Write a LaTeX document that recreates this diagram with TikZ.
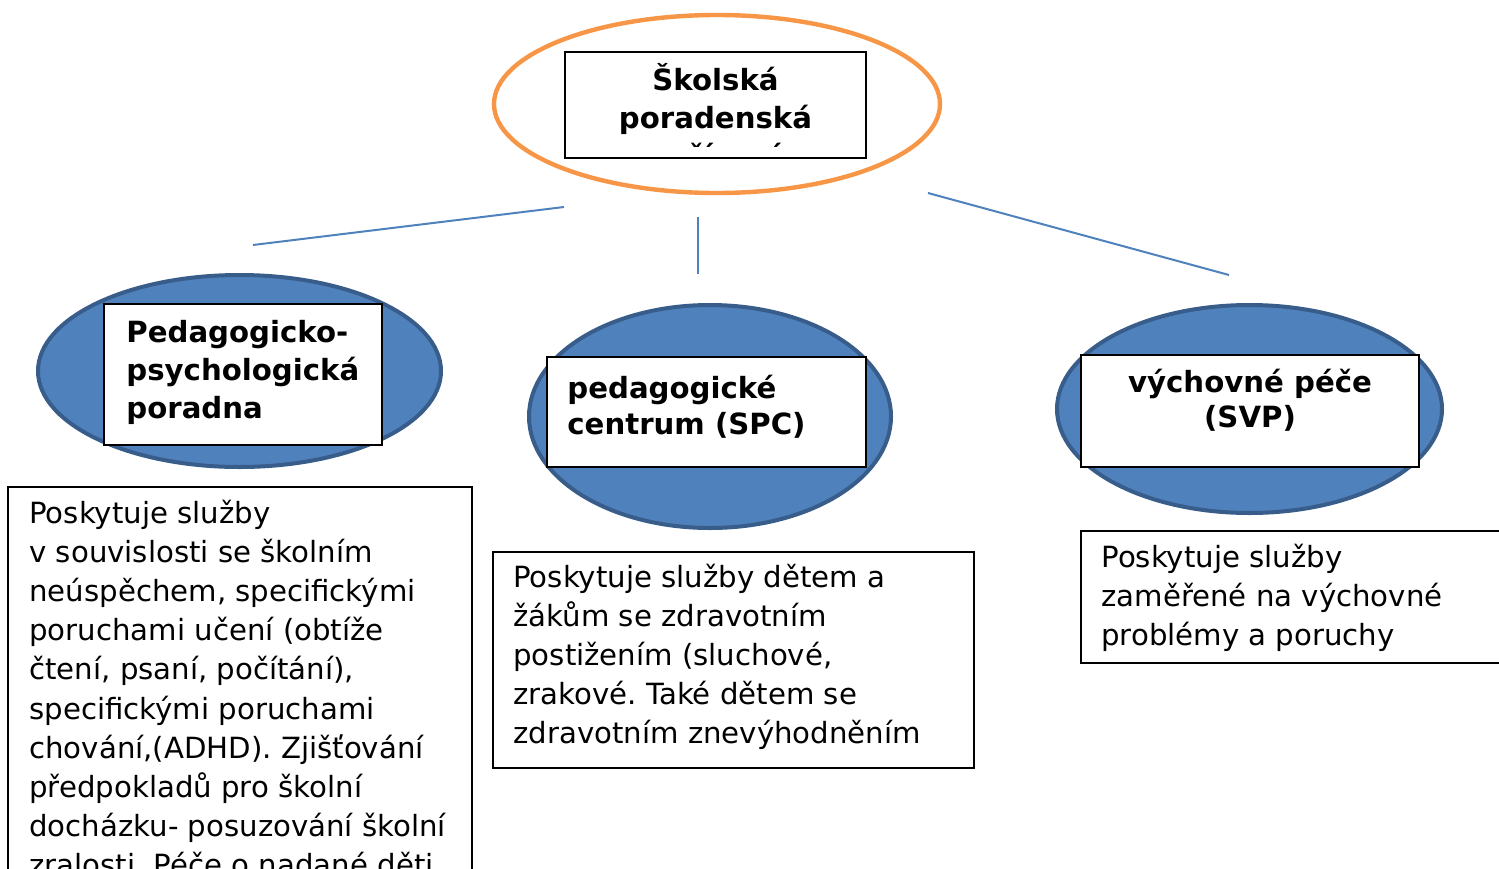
\documentclass[tikz,border=0pt]{standalone}
\usepackage{fontspec}
\setmainfont{DejaVu Sans}
\usetikzlibrary{shapes.geometric}
\definecolor{ellblue}{HTML}{4F81BD}
\definecolor{ellborder}{HTML}{385D8A}
\definecolor{ellorange}{HTML}{F79646}
\newcommand\lblock[1]{\begin{tabular}[t]{@{}l@{}}#1\end{tabular}}
\newcommand\cblock[1]{\begin{tabular}[t]{@{}c@{}}#1\end{tabular}}
\frenchspacing
\begin{document}
\begin{tikzpicture}[x=0.5pt,y=-0.5pt,
  blueell/.style={ellipse, draw=ellborder, fill=ellblue, line width=2pt, inner sep=0pt},
  orangeell/.style={ellipse, draw=ellorange, line width=2.2pt, inner sep=0pt},
  boxnode/.style={rectangle, draw=black, fill=white, line width=1pt, inner sep=0pt},
  txt/.style={anchor=base west, inner sep=0pt, font=\fontsize{14.6}{19.6}\selectfont},
  head/.style={anchor=base west, inner sep=0pt, font=\bfseries\fontsize{14.6}{#1}\selectfont},
  link/.style={draw=ellblue, line width=1pt}]
\useasboundingbox (0,0) rectangle (1499,868);

% connectors
\coordinate (l1a) at (564,207); \coordinate (l1b) at (253,245);
\coordinate (l2a) at (698,217); \coordinate (l2b) at (698,274);
\coordinate (l3a) at (928,193); \coordinate (l3b) at (1229,275);
\draw[link] (l1a) -- (l1b);
\draw[link] (l2a) -- (l2b);
\draw[link] (l3a) -- (l3b);

% ellipses
\node[orangeell, minimum width=223pt, minimum height=89pt] (topell) at (717,104) {};
\node[blueell, minimum width=201.5pt, minimum height=96pt] (leftell) at (239.5,371) {};
\node[blueell, minimum width=181pt, minimum height=111.5pt] (midell) at (710,416.5) {};
\node[blueell, minimum width=192.5pt, minimum height=104pt] (rightell) at (1249.5,409) {};

% title boxes
\node[boxnode, minimum width=150.5pt, minimum height=53pt] (topbox) at (715.5,105) {};
\node[boxnode, minimum width=139pt, minimum height=70.5pt] (leftbox) at (243,374.5) {};
\node[boxnode, minimum width=159.5pt, minimum height=55pt] (midbox) at (706.5,412) {};
\node[boxnode, minimum width=169pt, minimum height=56pt] (rightbox) at (1250,411) {};

% description boxes
\node[boxnode, minimum width=232pt, minimum height=256.5pt] (leftdesc) at (240,743.5) {};
\node[boxnode, minimum width=240.5pt, minimum height=108pt] (middesc) at (733.5,660) {};
\node[boxnode, minimum width=259.5pt, minimum height=66pt] (rightdesc) at (1340.5,597) {};

% headings
\begin{scope}
\clip (565,52) rectangle (866,146.5);
\node[head=19.2, anchor=base] (toptext) at (715.5,90) {\cblock{Školská\\poradenská\\zařízení}};
\end{scope}
\node[head=19.2] (lefttext) at (126,342) {\lblock{Pedagogicko-\\psychologická\\poradna}};
\node[head=18] (midtext) at (567,398) {\lblock{pedagogické\\centrum (SPC)}};
\node[head=17.5, anchor=base] (righttext) at (1250,392) {\cblock{výchovné péče\\(SVP)}};

% descriptions
\begin{scope}
\clip (0,0) rectangle (1499,868);
\node[txt] (leftdesctext) at (29,523) {\lblock{Poskytuje služby\\
v souvislosti se školním\\
neúspěchem, specifickými\\
poruchami učení (obtíže\\
čtení, psaní, počítání),\\
specifickými poruchami\\
chování,(ADHD). Zjišťování\\
předpokladů pro školní\\
docházku- posuzování školní\\
zralosti. Péče o nadané děti}};
\end{scope}
\node[txt] (middesctext) at (513,587) {\lblock{Poskytuje služby dětem a\\
žákům se zdravotním\\
postižením (sluchové,\\
zrakové. Také dětem se\\
zdravotním znevýhodněním}};
\node[txt] (rightdesctext) at (1101,567) {\lblock{Poskytuje služby\\
zaměřené na výchovné\\
problémy a poruchy}};
\end{tikzpicture}
\end{document}
